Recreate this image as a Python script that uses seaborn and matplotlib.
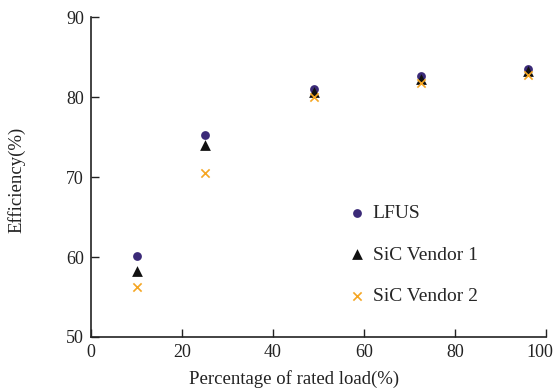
import numpy as np
import pandas as pd
import matplotlib
matplotlib.use("Agg")
import matplotlib.pyplot as plt
import matplotlib.transforms as mtransforms
import seaborn as sns

load_pct = [10, 25, 49, 72.5, 96]
lfus = [60.1, 75.2, 81.0, 82.6, 83.5]
vendor1 = [58.2, 74.0, 80.6, 82.3, 83.3]
vendor2 = [56.2, 70.5, 80.0, 81.8, 82.8]
series_names = ["LFUS", "SiC Vendor 1", "SiC Vendor 2"]
x_ticks = [0, 20, 40, 60, 80, 100]
y_ticks = [50, 60, 70, 80, 90]

df = pd.DataFrame({
    "load": load_pct * 3,
    "eff": lfus + vendor1 + vendor2,
    "series": [series_names[0]] * 5 + [series_names[1]] * 5 + [series_names[2]] * 5,
})

sns.set_theme(style="ticks")
plt.rcParams["font.family"] = ["Liberation Serif", "DejaVu Serif"]

fig = plt.figure(figsize=(5.55, 3.9), dpi=100)
ax = fig.add_axes([0.164, 0.136, 0.82, 0.82])

palette = {"LFUS": "#3b2a78", "SiC Vendor 1": "#111111", "SiC Vendor 2": "#f5a623"}
markers = {"LFUS": "o", "SiC Vendor 1": "^", "SiC Vendor 2": "x"}
sizes_map = {"LFUS": 40, "SiC Vendor 1": 60, "SiC Vendor 2": 35}

for name in series_names:
    sub = df[df["series"] == name]
    kw = dict(linewidth=0) if markers[name] != "x" else dict(linewidth=1.2)
    sns.scatterplot(data=sub, x="load", y="eff", ax=ax, color=palette[name],
                    marker=markers[name], s=sizes_map[name], label=name, **kw)

ax.set_xlim(0, 100)
ax.set_ylim(50, 90)
ax.set_xticks(x_ticks)
ax.set_yticks(y_ticks)
ax.tick_params(direction="in", length=6, width=1, labelsize=13, colors="#222222", pad=5)
for side in ["top", "right"]:
    ax.spines[side].set_visible(False)
for side in ["left", "bottom"]:
    ax.spines[side].set_color("#222222")
    ax.spines[side].set_linewidth(1.2)

# nudge the last x tick label so it stays inside the canvas
last = ax.get_xticklabels()[-1]
last.set_transform(last.get_transform() + mtransforms.ScaledTranslation(-6 / 100, 0, fig.dpi_scale_trans))

ax.set_xlabel("Percentage of rated load(%)", fontsize=13.5, color="#222222")
ax.set_ylabel("Efficiency(%)", fontsize=13.5, color="#222222")
ax.xaxis.set_label_coords(0.446, -0.105)
ax.yaxis.set_label_coords(-0.143, 0.49)

leg = ax.legend(loc="upper left", bbox_to_anchor=(0.542, 0.44), frameon=False,
                fontsize=14, labelspacing=1.25, handletextpad=0.2, handlelength=1.2,
                borderaxespad=0)

fig.savefig("out.png", dpi=100)
